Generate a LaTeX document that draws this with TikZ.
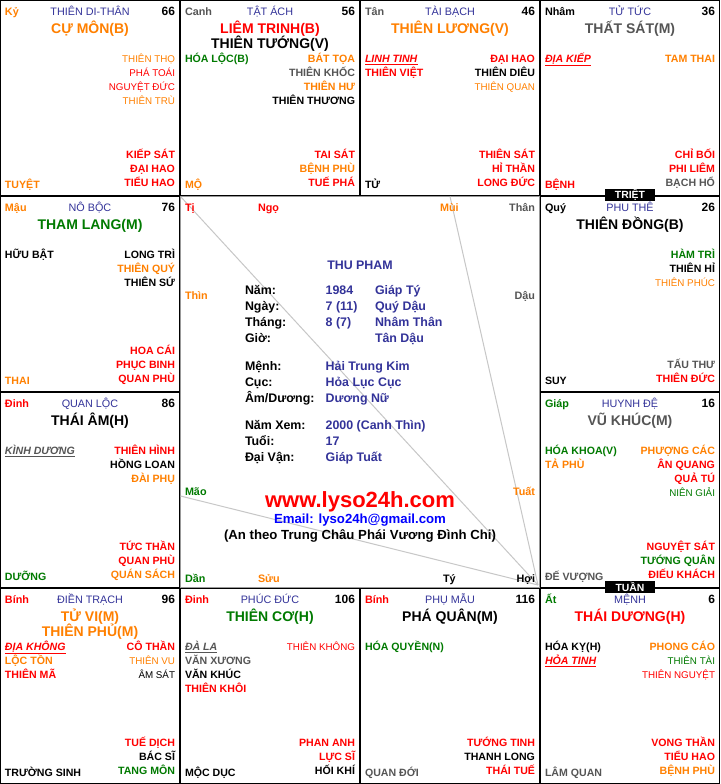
\documentclass[tikz,border=0pt]{standalone}
\usepackage{fontspec}
\setmainfont{Liberation Sans}
\newcommand\fs[1]{\fontsize{#1}{#1}\selectfont}
\newcommand\ulit[1]{\underline{\textit{#1}}}
\definecolor{cr}{HTML}{FF0000}
\definecolor{co}{HTML}{FF8000}
\definecolor{cg}{HTML}{007A00}
\definecolor{cgr}{HTML}{555555}
\definecolor{cb}{HTML}{333399}
\definecolor{cbl}{HTML}{0000FF}
\tikzset{
  txt/.style={inner sep=0pt, outer sep=0pt},
  Lb/.style={txt, anchor=base west, font=\fs{10.6}\bfseries},
  Rb/.style={txt, anchor=base east, font=\fs{10.6}\bfseries},
  Lr/.style={txt, anchor=base west, font=\fs{9.8}},
  Rr/.style={txt, anchor=base east, font=\fs{9.8}},
  canlbl/.style={txt, anchor=base west, font=\fs{10.8}\bfseries},
  palace/.style={txt, anchor=base, font=\fs{10.8}, text=cb},
  numlbl/.style={txt, anchor=base east, font=\fs{12}\bfseries},
  starlbl/.style={txt, anchor=base, font=\fs{14}\bfseries},
  cellframe/.style={draw=black, line width=1pt},
  centerframe/.style={draw=black!40, line width=1pt},
  tamhop/.style={draw=black!22, line width=1pt},
  ctl/.style={txt, anchor=base west, font=\fs{12.4}\bfseries, text=black},
  ctv/.style={txt, anchor=base west, font=\fs{12.4}\bfseries, text=cb},
  branchL/.style={txt, anchor=base west, font=\fs{10.8}\bfseries},
  branchR/.style={txt, anchor=base east, font=\fs{10.8}\bfseries},
  markbox/.style={fill=black, text=white, font=\fs{10.4}\bfseries, minimum width=50pt, minimum height=12pt, inner sep=0pt}
}
\newcommand\hdr[5]{%
  \draw[cellframe] (\X+0.5,\Y+0.5) rectangle (\X+179.5,\Y+195.5);
  \node[canlbl,text=#2] (#1can) at (\X+5,\Y+15.5) {#3};
  \node[palace] (#1pal) at (\X+90,\Y+15.5) {#4};
  \node[numlbl] (#1num) at (\X+175,\Y+15.5) {#5};}
\newcommand\Sx[4]{\node[starlbl,text=#2] (#1) at (\X+90,\Y+#3) {#4};}
\newcommand\Lt[5]{\node[#2,text=#3] (#1) at (\X+5,\Y+#4) {#5};}
\newcommand\Rt[5]{\node[#2,text=#3] (#1) at (\X+175,\Y+#4) {#5};}
\begin{document}
\begin{tikzpicture}[x=1pt,y=-1pt]
\useasboundingbox (0,0) rectangle (720,784);
\fill[white] (0,0) rectangle (720,784);

% ---------- centre ----------
\draw[centerframe] (180.5,196.5) rectangle (539.5,587.5);
\coordinate (hoiC) at (538,585);
\coordinate (tiC) at (181,197);
\coordinate (muiC) at (450,196.5);
\coordinate (maoC) at (180.5,496);
\draw[tamhop] (tiC) -- (hoiC);
\draw[tamhop] (muiC) -- (hoiC);
\draw[tamhop] (maoC) -- (hoiC);

\node[branchL,text=cr] (bTi) at (185,211) {Tị};
\node[branchL,text=cr] (bNgo) at (258,211) {Ngọ};
\node[branchL,text=co] (bMui) at (440,211) {Mùi};
\node[branchR,text=cgr] (bThan) at (535,211) {Thân};
\node[branchL,text=co] (bThin) at (185,299) {Thìn};
\node[branchR,text=cgr] (bDau) at (535,299) {Dậu};
\node[branchL,text=cg] (bMao) at (185,495) {Mão};
\node[branchR,text=co] (bTuat) at (535,495) {Tuất};
\node[branchL,text=cg] (bDan) at (185,582.5) {Dần};
\node[branchL,text=co] (bSuu) at (258,582.5) {Sửu};
\node[branchL,text=black] (bTy) at (443,582.5) {Tý};
\node[branchR,text=black] (bHoi) at (535,582.5) {Hợi};

\node[txt,anchor=base,font=\fs{12.4}\bfseries,text=cb] (cName) at (360,269) {THU PHAM};
\node[ctl] (cNamL) at (245,294.5) {Năm:};
\node[ctv] (cNamV) at (325.7,294.5) {1984};
\node[ctv] (cNamC) at (375,294.5) {Giáp Tý};
\node[ctl] (cNgayL) at (245,310.5) {Ngày:};
\node[ctv] (cNgayV) at (325.7,310.5) {7 (11)};
\node[ctv] (cNgayC) at (375,310.5) {Quý Dậu};
\node[ctl] (cThangL) at (245,326.5) {Tháng:};
\node[ctv] (cThangV) at (325.7,326.5) {8 (7)};
\node[ctv] (cThangC) at (375,326.5) {Nhâm Thân};
\node[ctl] (cGioL) at (245,342.5) {Giờ:};
\node[ctv] (cGioC) at (375,342.5) {Tân Dậu};
\node[ctl] (cMenhL) at (245,370) {Mệnh:};
\node[ctv] (cMenhV) at (325.7,370) {Hải Trung Kim};
\node[ctl] (cCucL) at (245,386) {Cục:};
\node[ctv] (cCucV) at (325.7,386) {Hỏa Lục Cục};
\node[ctl] (cAmL) at (245,402) {Âm/Dương:};
\node[ctv] (cAmV) at (325.7,402) {Dương Nữ};
\node[ctl] (cXemL) at (245,429.7) {Năm Xem:};
\node[ctv] (cXemV) at (325.7,429.7) {2000 (Canh Thìn)};
\node[ctl] (cTuoiL) at (245,445.7) {Tuổi:};
\node[ctv] (cTuoiV) at (325.7,445.7) {17};
\node[ctl] (cDvL) at (245,461.7) {Đại Vận:};
\node[ctv] (cDvV) at (325.7,461.7) {Giáp Tuất};
\node[txt,anchor=base,font=\fs{22}\bfseries,text=cr] (cWeb) at (360,507) {www.lyso24h.com};
\node[txt,anchor=base,font=\fs{13.2}\bfseries,text=cbl] (cMail) at (360,523.7) {Email: lyso24h@gmail.com};
\node[txt,anchor=base,font=\fs{13.2}\bfseries,text=black] (cNote) at (360,539.7) {(An theo Trung Châu Phái Vương Đình Chi)};

% ---------- Ti ----------
\def\X{0}\def\Y{0}
\hdr{ti}{co}{Kỷ}{THIÊN DI-THÂN}{66}
\Sx{tiS1}{co}{33.5}{CỰ MÔN(B)}
\Rt{tiR1}{Rr}{co}{62.5}{THIÊN THỌ}
\Rt{tiR2}{Rr}{cr}{76.5}{PHÁ TOÁI}
\Rt{tiR3}{Rr}{cr}{90.5}{NGUYỆT ĐỨC}
\Rt{tiR4}{Rr}{co}{104.5}{THIÊN TRÙ}
\Rt{tiB1}{Rb}{cr}{158.5}{KIẾP SÁT}
\Rt{tiB2}{Rb}{cr}{172.5}{ĐẠI HAO}
\Rt{tiB3}{Rb}{cr}{186.5}{TIỂU HAO}
\Lt{tiSt}{Lb}{co}{188}{TUYỆT}

% ---------- Ngo ----------
\def\X{180}\def\Y{0}
\hdr{ngo}{cgr}{Canh}{TẬT ÁCH}{56}
\Sx{ngoS1}{cr}{33.5}{LIÊM TRINH(B)}
\Sx{ngoS2}{black}{48.5}{THIÊN TƯỚNG(V)}
\Lt{ngoL1}{Lb}{cg}{62.5}{HÓA LỘC(B)}
\Rt{ngoR1}{Rb}{co}{62.5}{BÁT TỌA}
\Rt{ngoR2}{Rb}{cgr}{76.5}{THIÊN KHỐC}
\Rt{ngoR3}{Rb}{co}{90.5}{THIÊN HƯ}
\Rt{ngoR4}{Rb}{black}{104.5}{THIÊN THƯƠNG}
\Rt{ngoB1}{Rb}{cr}{158.5}{TAI SÁT}
\Rt{ngoB2}{Rb}{co}{172.5}{BỆNH PHÙ}
\Rt{ngoB3}{Rb}{cr}{186.5}{TUẾ PHÁ}
\Lt{ngoSt}{Lb}{co}{188}{MỘ}

% ---------- Mui ----------
\def\X{360}\def\Y{0}
\hdr{mui}{cgr}{Tân}{TÀI BẠCH}{46}
\Sx{muiS1}{co}{33.5}{THIÊN LƯƠNG(V)}
\Lt{muiL1}{Lb}{cr}{62.5}{\ulit{LINH TINH}}
\Lt{muiL2}{Lb}{cr}{76.5}{THIÊN VIỆT}
\Rt{muiR1}{Rb}{cr}{62.5}{ĐẠI HAO}
\Rt{muiR2}{Rb}{black}{76.5}{THIÊN DIÊU}
\Rt{muiR3}{Rr}{co}{90.5}{THIÊN QUAN}
\Rt{muiB1}{Rb}{cr}{158.5}{THIÊN SÁT}
\Rt{muiB2}{Rb}{cr}{172.5}{HỈ THẦN}
\Rt{muiB3}{Rb}{cr}{186.5}{LONG ĐỨC}
\Lt{muiSt}{Lb}{black}{188}{TỬ}

% ---------- Than ----------
\def\X{540}\def\Y{0}
\hdr{than}{black}{Nhâm}{TỬ TỨC}{36}
\Sx{thanS1}{cgr}{33.5}{THẤT SÁT(M)}
\Lt{thanL1}{Lb}{cr}{62.5}{\ulit{ĐỊA KIẾP}}
\Rt{thanR1}{Rb}{co}{62.5}{TAM THAI}
\Rt{thanB1}{Rb}{cr}{158.5}{CHỈ BỐI}
\Rt{thanB2}{Rb}{cr}{172.5}{PHI LIÊM}
\Rt{thanB3}{Rb}{cgr}{186.5}{BẠCH HỔ}
\Lt{thanSt}{Lb}{cr}{188}{BỆNH}

% ---------- Thin ----------
\def\X{0}\def\Y{196}
\hdr{thin}{co}{Mậu}{NÔ BỘC}{76}
\Sx{thinS1}{cg}{33.5}{THAM LANG(M)}
\Lt{thinL1}{Lb}{black}{62.5}{HỮU BẬT}
\Rt{thinR1}{Rb}{black}{62.5}{LONG TRÌ}
\Rt{thinR2}{Rb}{co}{76.5}{THIÊN QUÝ}
\Rt{thinR3}{Rb}{black}{90.5}{THIÊN SỨ}
\Rt{thinB1}{Rb}{cr}{158.5}{HOA CÁI}
\Rt{thinB2}{Rb}{cr}{172.5}{PHỤC BINH}
\Rt{thinB3}{Rb}{cr}{186.5}{QUAN PHÙ}
\Lt{thinSt}{Lb}{co}{188}{THAI}

% ---------- Mao ----------
\def\X{0}\def\Y{392}
\hdr{mao}{cr}{Đinh}{QUAN LỘC}{86}
\Sx{maoS1}{black}{33.5}{THÁI ÂM(H)}
\Lt{maoL1}{Lb}{cgr}{62.5}{\ulit{KÌNH DƯƠNG}}
\Rt{maoR1}{Rb}{cr}{62.5}{THIÊN HÌNH}
\Rt{maoR2}{Rb}{black}{76.5}{HỒNG LOAN}
\Rt{maoR3}{Rb}{co}{90.5}{ĐÀI PHỤ}
\Rt{maoB1}{Rb}{cr}{158.5}{TỨC THẦN}
\Rt{maoB2}{Rb}{cr}{172.5}{QUAN PHÙ}
\Rt{maoB3}{Rb}{co}{186.5}{QUÁN SÁCH}
\Lt{maoSt}{Lb}{cg}{188}{DƯỠNG}

% ---------- Dau ----------
\def\X{540}\def\Y{196}
\hdr{dau}{black}{Quý}{PHU THÊ}{26}
\Sx{dauS1}{black}{33.5}{THIÊN ĐỒNG(B)}
\Rt{dauR1}{Rb}{cg}{62.5}{HÀM TRÌ}
\Rt{dauR2}{Rb}{black}{76.5}{THIÊN HỈ}
\Rt{dauR3}{Rr}{co}{90.5}{THIÊN PHÚC}
\Rt{dauB2}{Rb}{cgr}{172.5}{TẤU THƯ}
\Rt{dauB3}{Rb}{cr}{186.5}{THIÊN ĐỨC}
\Lt{dauSt}{Lb}{black}{188}{SUY}

% ---------- Tuat ----------
\def\X{540}\def\Y{392}
\hdr{tuat}{cg}{Giáp}{HUYNH ĐỆ}{16}
\Sx{tuatS1}{cgr}{33.5}{VŨ KHÚC(M)}
\Lt{tuatL1}{Lb}{cg}{62.5}{HÓA KHOA(V)}
\Lt{tuatL2}{Lb}{co}{76.5}{TẢ PHÙ}
\Rt{tuatR1}{Rb}{co}{62.5}{PHƯỢNG CÁC}
\Rt{tuatR2}{Rb}{cr}{76.5}{ÂN QUANG}
\Rt{tuatR3}{Rb}{cr}{90.5}{QUẢ TÚ}
\Rt{tuatR4}{Rr}{cg}{104.5}{NIÊN GIẢI}
\Rt{tuatB1}{Rb}{cr}{158.5}{NGUYỆT SÁT}
\Rt{tuatB2}{Rb}{cg}{172.5}{TƯỚNG QUÂN}
\Rt{tuatB3}{Rb}{cr}{186.5}{ĐIẾU KHÁCH}
\Lt{tuatSt}{Lb}{cgr}{188}{ĐẾ VƯỢNG}

% ---------- Dan ----------
\def\X{0}\def\Y{588}
\hdr{dan}{cr}{Bính}{ĐIỀN TRẠCH}{96}
\Sx{danS1}{co}{33.5}{TỬ VI(M)}
\Sx{danS2}{co}{48.5}{THIÊN PHỦ(M)}
\Lt{danL1}{Lb}{cr}{62.5}{\ulit{ĐỊA KHÔNG}}
\Lt{danL2}{Lb}{co}{76.5}{LỘC TỒN}
\Lt{danL3}{Lb}{cr}{90.5}{THIÊN MÃ}
\Rt{danR1}{Rb}{cr}{62.5}{CÔ THẦN}
\Rt{danR2}{Rr}{co}{76.5}{THIÊN VU}
\Rt{danR3}{Rr}{black}{90.5}{ÂM SÁT}
\Rt{danB1}{Rb}{cr}{158.5}{TUẾ DỊCH}
\Rt{danB2}{Rb}{black}{172.5}{BÁC SĨ}
\Rt{danB3}{Rb}{cg}{186.5}{TANG MÔN}
\Lt{danSt}{Lb}{black}{188}{TRƯỜNG SINH}

% ---------- Suu ----------
\def\X{180}\def\Y{588}
\hdr{suu}{cr}{Đinh}{PHÚC ĐỨC}{106}
\Sx{suuS1}{cg}{33.5}{THIÊN CƠ(H)}
\Lt{suuL1}{Lb}{cgr}{62.5}{\ulit{ĐÀ LA}}
\Lt{suuL2}{Lb}{cgr}{76.5}{VĂN XƯƠNG}
\Lt{suuL3}{Lb}{black}{90.5}{VĂN KHÚC}
\Lt{suuL4}{Lb}{cr}{104.5}{THIÊN KHÔI}
\Rt{suuR1}{Rr}{cr}{62.5}{THIÊN KHÔNG}
\Rt{suuB1}{Rb}{cr}{158.5}{PHAN ANH}
\Rt{suuB2}{Rb}{cr}{172.5}{LỰC SĨ}
\Rt{suuB3}{Rb}{black}{186.5}{HỐI KHÍ}
\Lt{suuSt}{Lb}{black}{188}{MỘC DỤC}

% ---------- Ty ----------
\def\X{360}\def\Y{588}
\hdr{ty}{cr}{Bính}{PHỤ MẪU}{116}
\Sx{tyS1}{black}{33.5}{PHÁ QUÂN(M)}
\Lt{tyL1}{Lb}{cg}{62.5}{HÓA QUYỀN(N)}
\Rt{tyB1}{Rb}{cr}{158.5}{TƯỚNG TINH}
\Rt{tyB2}{Rb}{black}{172.5}{THANH LONG}
\Rt{tyB3}{Rb}{cr}{186.5}{THÁI TUẾ}
\Lt{tySt}{Lb}{cgr}{188}{QUAN ĐỚI}

% ---------- Hoi ----------
\def\X{540}\def\Y{588}
\hdr{hoi}{cg}{Ất}{MỆNH}{6}
\Sx{hoiS1}{cr}{33.5}{THÁI DƯƠNG(H)}
\Lt{hoiL1}{Lb}{black}{62.5}{HÓA KỴ(H)}
\Lt{hoiL2}{Lb}{cr}{76.5}{\ulit{HỎA TINH}}
\Rt{hoiR1}{Rb}{co}{62.5}{PHONG CÁO}
\Rt{hoiR2}{Rr}{cg}{76.5}{THIÊN TÀI}
\Rt{hoiR3}{Rr}{cr}{90.5}{THIÊN NGUYỆT}
\Rt{hoiB1}{Rb}{cr}{158.5}{VONG THẦN}
\Rt{hoiB2}{Rb}{cr}{172.5}{TIỂU HAO}
\Rt{hoiB3}{Rb}{co}{186.5}{BỆNH PHÙ}
\Lt{hoiSt}{Lb}{cgr}{188}{LÂM QUAN}

% ---------- Triet / Tuan ----------
\node[markbox] (triet) at (630,195) {TRIỆT};
\node[markbox] (tuan) at (630,587) {TUẦN};
\end{tikzpicture}
\end{document}
